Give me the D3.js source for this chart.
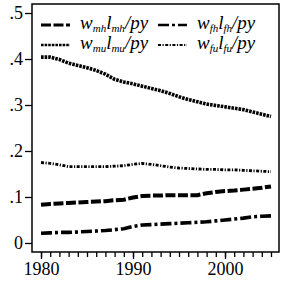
<!DOCTYPE html>
<html>
<head>
<meta charset="utf-8">
<script src="https://cdn.jsdelivr.net/npm/d3@7"></script>
<style>
  body { margin: 0; background: #fff; }
  text { font-family: "Liberation Serif", "DejaVu Serif", serif; }
</style>
</head>
<body>
<div id="chart"></div>
<script>
// years 1980..2005
var years = [1980, 1981, 1982, 1983, 1984, 1985, 1986, 1987, 1988, 1989, 1990, 1991, 1992,
    1993, 1994, 1995, 1996, 1997, 1998, 1999, 2000, 2001, 2002, 2003, 2004, 2005];

var mh = [.083, .085, .086, .087, .088, .089, .090, .091, .093, .094, .099, .102, .103,
    .103, .104, .104, .104, .104, .108, .111, .113, .114, .116, .118, .120, .123];
var fh = [.021, .022, .023, .023, .024, .025, .026, .027, .029, .031, .036, .039, .040,
    .041, .042, .043, .044, .045, .046, .048, .050, .052, .054, .057, .058, .059];
var mu = [.404, .404, .399, .391, .386, .381, .375, .367, .356, .350, .346, .341, .336,
    .331, .325, .318, .312, .307, .302, .299, .296, .293, .290, .285, .280, .275];
var fu = [.175, .173, .170, .166, .166, .166, .166, .166, .167, .168, .171, .173, .171,
    .168, .165, .163, .162, .161, .160, .160, .159, .159, .158, .157, .156, .155];

var yTicks = [0, .1, .2, .3, .4, .5];
var yTickLabels = ["0", ".1", ".2", ".3", ".4", ".5"];
var xTicks = [1980, 1990, 2000];

var series = [
    { sub: "mh", values: mh, dash: "10,2.5", width: 4 },
    { sub: "fh", values: fh, dash: "11,3,3,3", width: 3.6 },
    { sub: "mu", values: mu, dash: "2.6,1", width: 3.6 },
    { sub: "fu", values: fu, dash: "3,1.5,1.2,1.5", width: 2.8 }
];

var W = 281, H = 288;
var box = { left: 32, right: 279, top: 4, bottom: 252 };

var svg = d3.select("#chart")
    .append("svg")
    .attr("width", W)
    .attr("height", H);

var x = d3.scaleLinear()
    .domain([1979.02, 2005.87])
    .range([box.left, box.right]);

var y = d3.scaleLinear()
    .domain([-0.0196, 0.5196])
    .range([box.bottom, box.top]);

// frame
svg.append("rect")
    .attr("x", box.left)
    .attr("y", box.top)
    .attr("width", box.right - box.left)
    .attr("height", box.bottom - box.top)
    .attr("fill", "none")
    .attr("stroke", "#000")
    .attr("stroke-width", 1.5);

// y axis
var yAxis = svg.append("g")
    .attr("transform", "translate(" + box.left + ",0)")
    .call(d3.axisLeft(y).tickValues(yTicks).tickSize(7).tickPadding(2)
        .tickFormat(function (d, i) { return yTickLabels[i]; }));
yAxis.select(".domain").remove();
yAxis.selectAll("line").attr("stroke-width", 1.3);
yAxis.selectAll("text").style("font-size", "18px").attr("fill", "#000");

// x axis, minor ticks every year
var xMinor = svg.append("g")
    .attr("transform", "translate(0," + box.bottom + ")")
    .call(d3.axisBottom(x).tickValues(years).tickSize(5).tickFormat(""));
xMinor.select(".domain").remove();
xMinor.selectAll("line").attr("stroke-width", 1.3);

var xAxis = svg.append("g")
    .attr("transform", "translate(0," + box.bottom + ")")
    .call(d3.axisBottom(x).tickValues(xTicks).tickSize(7).tickPadding(3)
        .tickFormat(d3.format("d")));
xAxis.select(".domain").remove();
xAxis.selectAll("line").attr("stroke-width", 1.3);
xAxis.selectAll("text").style("font-size", "18px").attr("fill", "#000");

// lines
var line = d3.line()
    .x(function (d, i) { return x(years[i]); })
    .y(function (d) { return y(d); });

series.forEach(function (s) {
    svg.append("path")
        .datum(s.values)
        .attr("d", line)
        .attr("fill", "none")
        .attr("stroke", "#000")
        .attr("stroke-width", s.width)
        .attr("stroke-dasharray", s.dash);
});

// legend
var legendPos = [[41, 25], [158, 25], [41, 45], [158, 45]];
series.forEach(function (s, i) {
    var p = legendPos[i];
    svg.append("line")
        .attr("x1", p[0])
        .attr("x2", p[0] + 29)
        .attr("y1", p[1])
        .attr("y2", p[1])
        .attr("stroke", "#000")
        .attr("stroke-width", s.width * 0.75)
        .attr("stroke-dasharray", s.dash);

    var t = svg.append("text")
        .attr("x", p[0] + 39)
        .attr("y", p[1] + 4)
        .style("font-size", "19px")
        .style("font-style", "italic");
    t.append("tspan").text("w");
    t.append("tspan").attr("dy", 3).style("font-size", "11px").text(s.sub);
    t.append("tspan").attr("dy", -3).text("l");
    t.append("tspan").attr("dy", 3).style("font-size", "11px").text(s.sub);
    t.append("tspan").attr("dy", -3).text("/py");
});
</script>
</body>
</html>
